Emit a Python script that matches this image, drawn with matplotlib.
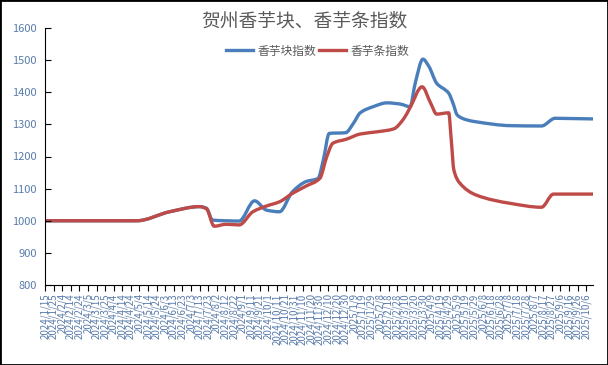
import numpy as np
import pandas as pd
import matplotlib
matplotlib.use("Agg")
import matplotlib.pyplot as plt
import matplotlib.dates as mdates
from matplotlib.path import Path
from matplotlib.patches import PathPatch, Rectangle
from matplotlib.lines import Line2D

plt.rcParams['font.family'] = ['Noto Sans CJK SC', 'DejaVu Sans']

title = "贺州香芋块、香芋条指数"
names = ["香芋块指数", "香芋条指数"]
colors = ["#4a7ebb", "#be4b48"]

# 香芋块指数
block_dates = ["2024-01-15", "2024-03-01", "2024-05-01", "2024-06-08", "2024-07-13",
               "2024-07-21", "2024-07-28", "2024-08-13", "2024-08-28", "2024-09-15",
               "2024-09-29", "2024-10-14", "2024-10-29", "2024-11-14", "2024-11-28",
               "2024-12-04", "2024-12-11", "2024-12-30", "2025-01-08", "2025-01-16",
               "2025-01-31", "2025-02-16", "2025-03-04", "2025-03-15", "2025-03-21",
               "2025-03-30", "2025-04-06", "2025-04-15", "2025-04-29", "2025-05-04",
               "2025-05-09", "2025-05-20", "2025-05-31", "2025-07-10", "2025-08-15",
               "2025-08-31", "2025-10-14"]
block_values = [1000, 1000, 1000, 1028, 1044,
                1039, 1002, 1000, 999, 1062,
                1033, 1028, 1090, 1122, 1132,
                1189, 1272, 1274, 1303, 1336,
                1355, 1367, 1363, 1355, 1428,
                1503, 1480, 1428, 1397, 1366,
                1329, 1314, 1308, 1296, 1295,
                1319, 1317]

# 香芋条指数
strip_dates = ["2024-01-15", "2024-03-01", "2024-05-01", "2024-06-08", "2024-07-13",
               "2024-07-21", "2024-07-30", "2024-08-13", "2024-08-28", "2024-09-13",
               "2024-09-29", "2024-10-14", "2024-10-29", "2024-11-14", "2024-11-30",
               "2024-12-08", "2024-12-15", "2024-12-31", "2025-01-16", "2025-02-05",
               "2025-02-24", "2025-03-08", "2025-03-15", "2025-03-29", "2025-04-08",
               "2025-04-15", "2025-04-29", "2025-05-02", "2025-05-05", "2025-05-12",
               "2025-05-31", "2025-07-10", "2025-08-15", "2025-08-29", "2025-10-14"]
strip_values = [1000, 1000, 1000, 1028, 1044,
                1037, 983, 989, 987, 1028,
                1046, 1059, 1085, 1108, 1132,
                1199, 1241, 1254, 1270, 1277,
                1286, 1319, 1352, 1417, 1366,
                1332, 1336, 1251, 1158, 1117,
                1080, 1054, 1042, 1083, 1083]

x_start = "2024-01-15"
x_end = "2025-10-14"
tick_dates = pd.date_range("2024-01-15", "2025-10-06", freq="10D")
y_ticks = list(range(800, 1700, 100))


def smooth_path(x, y):
    # smoothed line like the spreadsheet: monotone cubic pieces as bezier curves
    x = np.asarray(x, float)
    y = np.asarray(y, float)
    h = np.diff(x)
    s = np.diff(y) / h
    m = np.zeros_like(y)
    for i in range(1, len(y) - 1):
        if s[i - 1] * s[i] > 0:
            w1 = 2 * h[i] + h[i - 1]
            w2 = h[i] + 2 * h[i - 1]
            m[i] = (w1 + w2) / (w1 / s[i - 1] + w2 / s[i])
    verts = [(x[0], y[0])]
    codes = [Path.MOVETO]
    for i in range(len(h)):
        verts += [(x[i] + h[i] / 3, y[i] + m[i] * h[i] / 3),
                  (x[i + 1] - h[i] / 3, y[i + 1] - m[i + 1] * h[i] / 3),
                  (x[i + 1], y[i + 1])]
        codes += [Path.CURVE4] * 3
    return Path(verts, codes)


fig = plt.figure(figsize=(6.08, 3.65), dpi=100)
ax = fig.add_axes([45 / 608, 1 - 285 / 365, 548 / 608, 257 / 365])

for d, v, c in [(block_dates, block_values, colors[0]), (strip_dates, strip_values, colors[1])]:
    xs = mdates.date2num(pd.to_datetime(d))
    ax.add_patch(PathPatch(smooth_path(xs, v), fill=False, edgecolor=c, lw=2.4,
                           capstyle='round', joinstyle='round'))

ax.set_xlim(mdates.date2num(pd.Timestamp(x_start)), mdates.date2num(pd.Timestamp(x_end)))
ax.set_ylim(800, 1600)
ax.set_yticks(y_ticks)
ax.set_xticks(mdates.date2num(tick_dates))
ax.set_xticklabels([f"{t.year}/{t.month}/{t.day}" for t in tick_dates])

lab_color = "#5a7cab"
ax.tick_params(axis='y', direction='in', length=4, width=0.8, pad=6,
               labelsize=8, labelcolor=lab_color)
ax.tick_params(axis='x', direction='out', length=4, width=0.8, pad=2,
               labelsize=7, labelcolor=lab_color, labelrotation=90)
for sp in ['top', 'right']:
    ax.spines[sp].set_visible(False)
for sp in ['left', 'bottom']:
    ax.spines[sp].set_linewidth(0.8)
    ax.spines[sp].set_color('black')

fig.text(304 / 608, 1 - 21 / 365, title, ha='center', va='center',
         fontsize=13.5, color='#595959')

handles = [Line2D([], [], color=c, lw=2.4) for c in colors]
fig.legend(handles, names, loc='center', bbox_to_anchor=(318 / 608, 1 - 51 / 365),
           ncol=2, frameon=False, fontsize=8.5, handlelength=2.3,
           handletextpad=0.4, columnspacing=0.2, labelcolor='#595959')

fig.patches.append(Rectangle((0, 0), 1, 1, transform=fig.transFigure, fill=False,
                             edgecolor='black', lw=2))

fig.savefig("out.png", dpi=100)
